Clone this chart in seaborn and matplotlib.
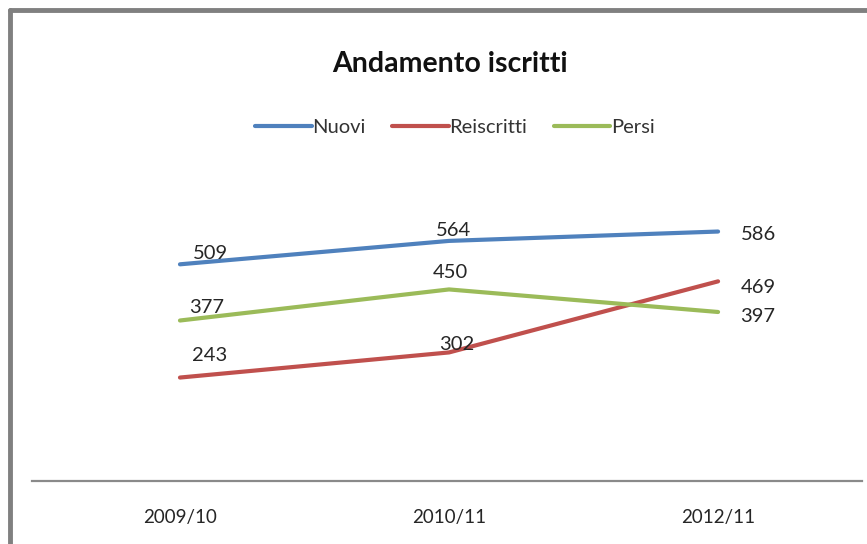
import numpy as np
import pandas as pd
import seaborn as sns
import matplotlib
matplotlib.use("Agg")
import matplotlib.pyplot as plt
from matplotlib.lines import Line2D

categories = ["2009/10", "2010/11", "2012/11"]
nuovi = [509, 564, 586]
reiscritti = [243, 302, 469]
persi = [377, 450, 397]
series_names = ["Nuovi", "Reiscritti", "Persi"]
colors = ["#4F81BD", "#C0504D", "#9BBB59"]
title = "Andamento iscritti"

sns.set_style("white")
plt.rcParams['font.family'] = ['Lato', 'DejaVu Sans']

rows = []
for name, vals in zip(series_names, [nuovi, reiscritti, persi]):
    for i, v in enumerate(vals):
        rows.append({"x": i, "value": v, "serie": name})
df = pd.DataFrame(rows)

fig = plt.figure(figsize=(8.67, 5.44), dpi=100)
ax = fig.add_axes([32/867, (544-481)/544, (862-32)/867, 298/544])

sns.lineplot(data=df, x="x", y="value", hue="serie", hue_order=series_names,
             palette=colors, linewidth=3, ax=ax, legend=False)

ax.set_xlim(-0.55, 2.535)
ax.set_ylim(0, 700)
ax.set_xticks(range(len(categories)))
ax.set_xticklabels(categories, fontsize=13.5, color="#262626")
ax.tick_params(axis="x", length=0, pad=20)
ax.set_yticks([])
ax.set_xlabel("")
ax.set_ylabel("")
for s in ["left", "right", "top"]:
    ax.spines[s].set_visible(False)
ax.spines["bottom"].set_color("#8a8a8a")
ax.spines["bottom"].set_linewidth(1.6)

offsets = {
    "Nuovi": [(30, 11), (4, 10), (40, -3)],
    "Reiscritti": [(30, 22), (8, 8), (40, -6)],
    "Persi": [(27, 13), (1, 17), (40, -5)],
}
for name, vals in zip(series_names, [nuovi, reiscritti, persi]):
    for i, v in enumerate(vals):
        ax.annotate(str(v), (i, v), xytext=offsets[name][i], textcoords="offset pixels",
                    ha="center", va="center", fontsize=14.5, color="#262626")

fig.text(450/867, 1 - 64/544, title, ha="center", va="center",
         fontsize=20.5, fontweight="bold", color="#111111")

handles = [Line2D([0], [0], color=c, lw=3) for c in colors]
fig.legend(handles, series_names, loc="center", bbox_to_anchor=(455/867, 1 - 127/544),
           ncol=3, frameon=False, fontsize=14.5, handlelength=2.8, handletextpad=0.05,
           columnspacing=1.3, labelcolor="#333333")

fig.add_artist(Line2D([10/867, 10/867], [0, 1 - 10/544], color="#808080", lw=3.5,
                      transform=fig.transFigure))
fig.add_artist(Line2D([10/867, 1], [1 - 10/544, 1 - 10/544], color="#808080", lw=3.5,
                      transform=fig.transFigure))

fig.savefig("out.png", dpi=100)
